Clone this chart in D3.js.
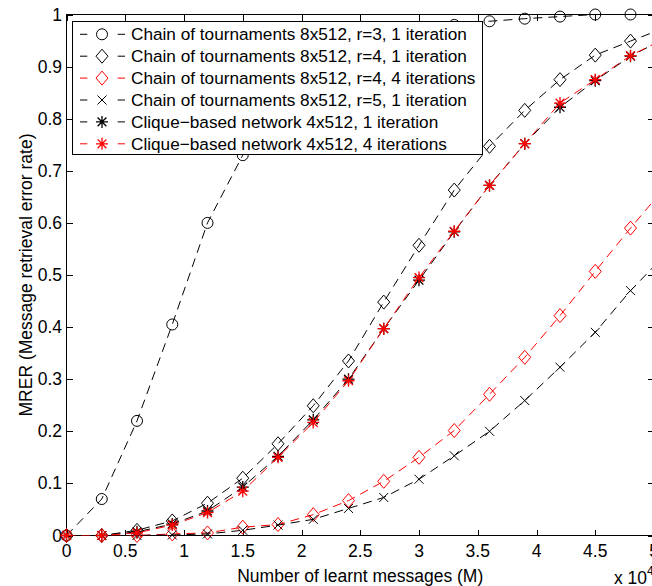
<!DOCTYPE html>
<html>
<head>
<meta charset="utf-8">
<script src="https://cdn.jsdelivr.net/npm/d3@7"></script>
<style>
	body { margin: 0; background: #fff; }
	text { font-family: "Liberation Sans", Arial, Helvetica, sans-serif; }
</style>
</head>
<body>
<div class="chart"></div>
<script>
	// data (x in units of 10^4 messages)
	var xValues = [0, 0.3, 0.6, 0.9, 1.2, 1.5, 1.8, 2.1, 2.4, 2.7, 3.0, 3.3, 3.6, 3.9, 4.2, 4.5, 4.8, 5.1];
	var chainR3 = [0, 0.07, 0.22, 0.405, 0.60, 0.73, 0.83, 0.9, 0.94, 0.96, 0.972, 0.98, 0.987, 0.992, 0.996, 1.0, 1.0, 1.0];
	var chainR4 = [0, 0, 0.01, 0.028, 0.062, 0.11, 0.176, 0.249, 0.335, 0.448, 0.557, 0.663, 0.747, 0.816, 0.875, 0.922, 0.949, 0.975];
	var chainR4it4 = [0, 0, 0, 0.003, 0.005, 0.016, 0.021, 0.04, 0.067, 0.104, 0.15, 0.2015, 0.271, 0.342, 0.422, 0.507, 0.59, 0.67];
	var chainR5 = [0, 0, 0, 0.001, 0.003, 0.01, 0.02, 0.031, 0.052, 0.073, 0.108, 0.153, 0.2, 0.259, 0.323, 0.39, 0.47, 0.54];
	var clique1 = [0, 0, 0.007, 0.022, 0.047, 0.093, 0.152, 0.222, 0.3, 0.397, 0.49, 0.583, 0.672, 0.752, 0.822, 0.873, 0.92, 0.955];
	var clique4 = [0, 0, 0.005, 0.02, 0.044, 0.085, 0.15, 0.217, 0.297, 0.397, 0.495, 0.584, 0.672, 0.752, 0.83, 0.875, 0.921, 0.955];

	var seriesNames = [
		"Chain of tournaments 8x512, r=3, 1 iteration",
		"Chain of tournaments 8x512, r=4, 1 iteration",
		"Chain of tournaments 8x512, r=4, 4 iterations",
		"Chain of tournaments 8x512, r=5, 1 iteration",
		"Clique\u2212based network 4x512, 1 iteration",
		"Clique\u2212based network 4x512, 4 iterations"
	];
	var seriesValues = [chainR3, chainR4, chainR4it4, chainR5, clique1, clique4];
	var seriesColors = ["#000", "#000", "#f00", "#000", "#000", "#f00"];
	var seriesMarkers = ["circle", "diamond", "diamond", "cross", "star", "star"];

	var xTicks = [0, 0.5, 1, 1.5, 2, 2.5, 3, 3.5, 4, 4.5, 5];
	var yTicks = [0, 0.1, 0.2, 0.3, 0.4, 0.5, 0.6, 0.7, 0.8, 0.9, 1];

	var svg_w = 652;
	var svg_h = 586;
	var svg = d3.select("div.chart").append("svg")
		.attr("width", svg_w)
		.attr("height", svg_h);

	var plotL = 66.5, plotR = 654, plotT = 14.5, plotB = 535.5;

	var x = d3.scaleLinear().domain([0, 5]).range([plotL, plotR]);
	var y = d3.scaleLinear().domain([0, 1]).range([plotB, plotT]);

	svg.append("defs").append("clipPath").attr("id", "plotclip")
		.append("rect")
		.attr("x", plotL).attr("y", plotT)
		.attr("width", plotR - plotL).attr("height", plotB - plotT);

	// axes box
	var axisG = svg.append("g").attr("shape-rendering", "crispEdges");
	axisG.append("rect")
		.attr("x", plotL).attr("y", plotT)
		.attr("width", plotR - plotL).attr("height", plotB - plotT)
		.attr("fill", "none").attr("stroke", "#000");

	var tickLen = 6;
	// ticks on all four sides, pointing inward
	axisG.selectAll("line.xb").data(xTicks).enter().append("line")
		.attr("x1", function(d) { return Math.round(x(d)) + 0.5; })
		.attr("x2", function(d) { return Math.round(x(d)) + 0.5; })
		.attr("y1", plotB).attr("y2", plotB - tickLen)
		.attr("stroke", "#000");
	axisG.selectAll("line.xt").data(xTicks).enter().append("line")
		.attr("x1", function(d) { return Math.round(x(d)) + 0.5; })
		.attr("x2", function(d) { return Math.round(x(d)) + 0.5; })
		.attr("y1", plotT).attr("y2", plotT + tickLen)
		.attr("stroke", "#000");
	axisG.selectAll("line.yl").data(yTicks).enter().append("line")
		.attr("y1", function(d) { return Math.round(y(d)) + 0.5; })
		.attr("y2", function(d) { return Math.round(y(d)) + 0.5; })
		.attr("x1", plotL).attr("x2", plotL + tickLen)
		.attr("stroke", "#000");
	axisG.selectAll("line.yr").data(yTicks).enter().append("line")
		.attr("y1", function(d) { return Math.round(y(d)) + 0.5; })
		.attr("y2", function(d) { return Math.round(y(d)) + 0.5; })
		.attr("x1", plotR).attr("x2", plotR - tickLen)
		.attr("stroke", "#000");

	// tick labels
	svg.selectAll("text.xtick").data(xTicks).enter().append("text")
		.attr("class", "xtick")
		.attr("x", function(d) { return x(d); })
		.attr("y", 557)
		.attr("text-anchor", "middle")
		.attr("font-size", "17.5px")
		.text(function(d) { return d; });
	svg.selectAll("text.ytick").data(yTicks).enter().append("text")
		.attr("class", "ytick")
		.attr("x", 62)
		.attr("y", function(d) { return y(d) + 6; })
		.attr("text-anchor", "end")
		.attr("font-size", "17.5px")
		.text(function(d) { return d; });

	// axis titles
	svg.append("text")
		.attr("x", (plotL + plotR) / 2)
		.attr("y", 582)
		.attr("text-anchor", "middle")
		.attr("font-size", "17.5px")
		.text("Number of learnt messages (M)");
	svg.append("text")
		.attr("transform", "translate(32," + ((plotT + plotB) / 2) + ") rotate(-90)")
		.attr("text-anchor", "middle")
		.attr("font-size", "17.5px")
		.text("MRER (Message retrieval error rate)");
	var expText = svg.append("text")
		.attr("x", 614)
		.attr("y", 584)
		.attr("font-size", "17.5px")
		.text("x 10");
	expText.append("tspan")
		.attr("dy", -9)
		.attr("font-size", "12px")
		.text("4");

	// marker drawing
	function drawMarker(g, type, cx, cy, color) {
		if (type == "circle") {
			g.append("circle").attr("cx", cx).attr("cy", cy).attr("r", 5.5)
				.attr("fill", "none").attr("stroke", color);
		} else if (type == "diamond") {
			g.append("path")
				.attr("d", "M" + cx + "," + (cy - 7) + "L" + (cx + 6) + "," + cy + "L" + cx + "," + (cy + 7) + "L" + (cx - 6) + "," + cy + "Z")
				.attr("fill", "none").attr("stroke", color);
		} else if (type == "cross") {
			var s = 4.5;
			g.append("path")
				.attr("d", "M" + (cx - s) + "," + (cy - s) + "L" + (cx + s) + "," + (cy + s) + "M" + (cx - s) + "," + (cy + s) + "L" + (cx + s) + "," + (cy - s))
				.attr("stroke", color);
		} else if (type == "star") {
			var r = 6, d = 4.4;
			g.append("path")
				.attr("d", "M" + (cx - r) + "," + cy + "L" + (cx + r) + "," + cy +
					"M" + cx + "," + (cy - r) + "L" + cx + "," + (cy + r) +
					"M" + (cx - d) + "," + (cy - d) + "L" + (cx + d) + "," + (cy + d) +
					"M" + (cx - d) + "," + (cy + d) + "L" + (cx + d) + "," + (cy - d))
				.attr("stroke", color)
				.attr("stroke-width", 1.3);
		}
	}

	var line = d3.line()
		.x(function(d) { return x(d[0]); })
		.y(function(d) { return y(d[1]); });

	// series, in plotting order
	seriesValues.forEach(function(vals, i) {
		var pts = xValues.map(function(xv, j) { return [xv, vals[j]]; });
		var g = svg.append("g").attr("class", "series");
		g.append("path")
			.datum(pts)
			.attr("clip-path", "url(#plotclip)")
			.attr("d", line)
			.attr("fill", "none")
			.attr("stroke", seriesColors[i])
			.attr("stroke-width", 1)
			.attr("stroke-dasharray", "9,6");
		pts.forEach(function(p) {
			if (p[0] <= 5) drawMarker(g, seriesMarkers[i], x(p[0]), y(p[1]), seriesColors[i]);
		});
	});

	// legend
	var legend = svg.append("g").attr("class", "legend");
	legend.append("rect")
		.attr("x", 72.5).attr("y", 21.5)
		.attr("width", 410).attr("height", 133)
		.attr("fill", "#fff").attr("stroke", "#000")
		.attr("shape-rendering", "crispEdges");
	seriesNames.forEach(function(name, i) {
		var cy = 34.3 + i * 21.9;
		legend.append("line")
			.attr("x1", 80).attr("x2", 125)
			.attr("y1", cy).attr("y2", cy)
			.attr("stroke", seriesColors[i])
			.attr("stroke-dasharray", "7.3,30.4");
		drawMarker(legend, seriesMarkers[i], 102, cy, seriesColors[i]);
		legend.append("text")
			.attr("x", 131)
			.attr("y", cy + 6)
			.attr("font-size", "17.2px")
			.text(name);
	});
</script>
</body>
</html>
